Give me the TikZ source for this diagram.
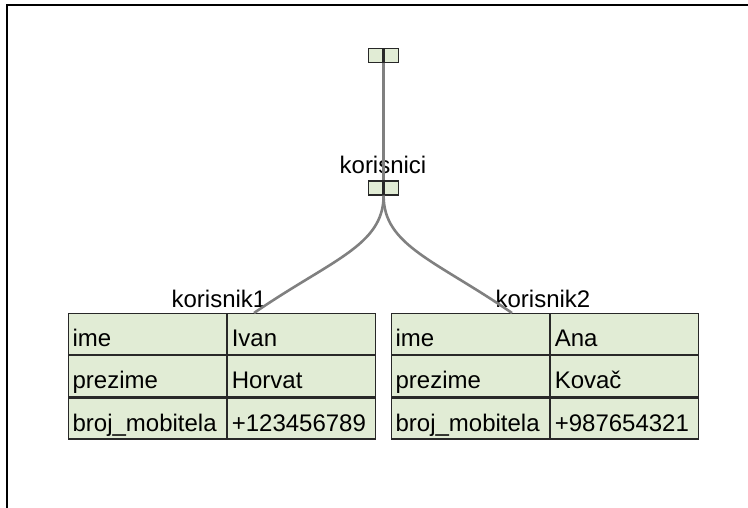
\documentclass[tikz,border=0pt]{standalone}
\usepackage{fontspec}
\setmainfont{Liberation Sans}
\usepackage{tikz}
\usetikzlibrary{positioning}

\definecolor{cellfill}{RGB}{225,236,213}
\definecolor{cellline}{RGB}{40,40,40}
\definecolor{connline}{RGB}{128,128,128}

\begin{document}
\begin{tikzpicture}[x=1pt,y=-1pt,
    cell/.style={draw=cellline, fill=cellfill, line width=1.2pt, minimum height=41pt,
                 inner xsep=4pt, inner ysep=0pt, text height=25pt, text depth=0pt,
                 align=left, font=\fontsize{24}{28}\selectfont},
    key/.style={cell, text width=150pt},
    val/.style={cell, text width=140pt},
    sq/.style={draw=cellline, fill=cellfill, line width=1.2pt, minimum width=14.5pt,
               minimum height=14pt, inner sep=0pt},
    lbl/.style={inner sep=0pt, font=\fontsize{24}{28}\selectfont},
    conn/.style={draw=connline, line width=2.6pt}]
    \useasboundingbox (0,0) rectangle (748,508);
    %\draw [step=50] (0,0) grid (748,508);
    \draw[line width=2pt] (7,508) -- (7,5) -- (748,5);

    % root
    \node[sq] (rootL) at (375.75,55.5) {};
    \node[sq, right=0pt of rootL] (rootR) {};
    % korisnici
    \node[sq] (korL) at (375.75,188) {};
    \node[sq, right=0pt of korL] (korR) {};
    \node[lbl, anchor=base] (kor) at (383,174) {korisnici};

    % korisnik1
    \node[key, anchor=north west] (k1ime) at (68,313) {ime};
    \node[val, right=0pt of k1ime] (k1imeV) {Ivan};
    \node[key, below=0pt of k1ime] (k1prez) {prezime};
    \node[val, right=0pt of k1prez] (k1prezV) {Horvat};
    \node[key, below=0pt of k1prez] (k1mob) {broj\_mobitela};
    \node[val, right=0pt of k1mob] (k1mobV) {+123456789};
    \node[lbl, anchor=base] (k1) at (219,307) {korisnik1};
    \coordinate (k1in) at (254,313);

    % korisnik2
    \node[key, anchor=north west] (k2ime) at (391,313) {ime};
    \node[val, right=0pt of k2ime] (k2imeV) {Ana};
    \node[key, below=0pt of k2ime] (k2prez) {prezime};
    \node[val, right=0pt of k2prez] (k2prezV) {Kovač};
    \node[key, below=0pt of k2prez] (k2mob) {broj\_mobitela};
    \node[val, right=0pt of k2mob] (k2mobV) {+987654321};
    \node[lbl, anchor=base] (k2) at (543,307) {korisnik2};
    \coordinate (k2in) at (512,313);

    % veze
    \draw[conn] (rootL.south east) -- (korL.north east);
    \draw[conn] (korL.south east) .. controls +(0,50) and +(77,-53) .. (k1in);
    \draw[conn] (korL.south east) .. controls +(0,50) and +(-77,-53) .. (k2in);
\end{tikzpicture}
\end{document}
